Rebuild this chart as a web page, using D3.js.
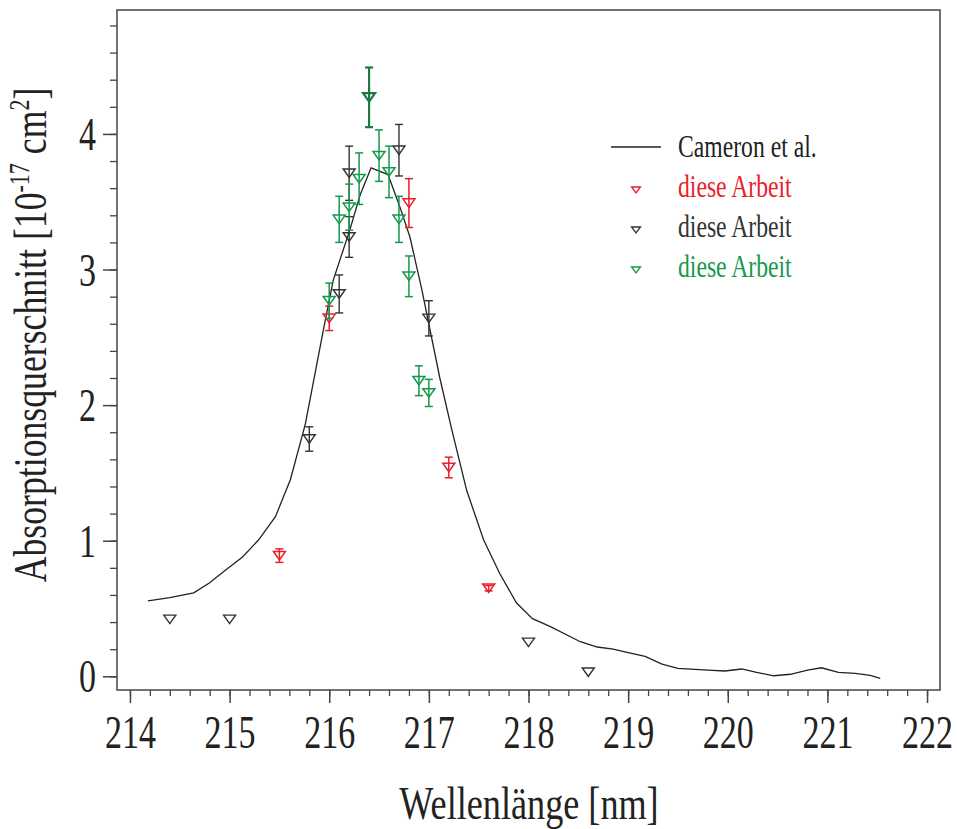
<!DOCTYPE html>
<html>
<head>
<meta charset="utf-8">
<script src="https://cdn.jsdelivr.net/npm/d3@7/dist/d3.min.js"></script>
<style>
  html, body { margin: 0; padding: 0; background: #fff; }
  svg { display: block; }
</style>
</head>
<body>
<div id="chart"></div>
<script>
// Cameron et al. reference spectrum
var cameronX = [214.18, 214.40, 214.64, 214.80, 214.97, 215.13, 215.29, 215.46, 215.61, 215.76,
                215.94, 216.04, 216.21, 216.31, 216.42, 216.59, 216.71, 216.81, 216.93, 217.11,
                217.23, 217.38, 217.55, 217.71, 217.88, 218.04, 218.22, 218.52, 218.69, 218.85,
                218.99, 219.17, 219.34, 219.50, 219.80, 219.97, 220.14, 220.29, 220.46, 220.63,
                220.80, 220.94, 221.11, 221.28, 221.43, 221.53];
var cameronY = [0.556, 0.58, 0.615, 0.69, 0.79, 0.88, 1.005, 1.177, 1.45, 1.86,
                2.55, 2.92, 3.30, 3.55, 3.75, 3.70, 3.46, 3.24, 2.85, 2.20,
                1.82, 1.37, 1.005, 0.76, 0.54, 0.425, 0.366, 0.255, 0.216, 0.20,
                0.177, 0.147, 0.09, 0.059, 0.046, 0.039, 0.054, 0.029, 0.004, 0.015,
                0.046, 0.063, 0.029, 0.022, 0.007, -0.015];

// diese Arbeit (rot)
var redX = [215.5, 216.0, 216.8, 217.2, 217.6];
var redY = [0.89, 2.64, 3.49, 1.54, 0.65];
var redErr = [0.05, 0.09, 0.18, 0.076, 0.02];

// diese Arbeit (schwarz)
var blackX = [214.4, 215.0, 215.8, 216.1, 216.2, 216.2, 216.7, 217.0, 218.0, 218.6];
var blackY = [0.42, 0.42, 1.75, 2.82, 3.24, 3.71, 3.88, 2.64, 0.25, 0.03];
var blackErr = [0, 0, 0.09, 0.14, 0.15, 0.2, 0.19, 0.13, 0, 0];

// diese Arbeit (gruen)
var greenX = [216.0, 216.1, 216.2, 216.3, 216.5, 216.6, 216.7, 216.8, 216.9, 217.0];
var greenY = [2.77, 3.37, 3.46, 3.67, 3.84, 3.72, 3.37, 2.95, 2.18, 2.09];
var greenErr = [0.13, 0.17, 0.17, 0.19, 0.19, 0.19, 0.17, 0.15, 0.11, 0.10];

// darker green point at the top
var topX = [216.4];
var topY = [4.27];
var topErr = [0.22];

var xMajor = [214, 215, 216, 217, 218, 219, 220, 221, 222];
var yMajor = [0, 1, 2, 3, 4];
var legendLabels = ["Cameron et al.", "diese Arbeit", "diese Arbeit", "diese Arbeit"];

var full_width = 957, full_height = 829;
var fontFamily = "'Liberation Serif', 'Times New Roman', serif";
var squeeze = 0.74;

var x = d3.scaleLinear().domain([213.87, 222.13]).range([117, 940]);
var y = d3.scaleLinear().domain([-0.101, 4.914]).range([690, 10]);

var svg = d3.select("#chart").append("svg")
    .attr("width", full_width)
    .attr("height", full_height)
    .style("font-family", fontFamily);

// minor ticks every 0.2
var xMinor = d3.range(214, 222.01, 0.2).map(function(d) { return +d.toFixed(1); });
var yMinor = d3.range(0, 4.81, 0.2).map(function(d) { return +d.toFixed(1); });

svg.append("g")
    .attr("transform", "translate(0,690)")
    .call(d3.axisBottom(x).tickValues(xMinor).tickSize(6).tickFormat(""))
    .call(function(g) { g.select(".domain").remove(); })
    .selectAll("line").attr("stroke", "#444").attr("stroke-width", 1.3);

var xAxis = svg.append("g")
    .attr("transform", "translate(0,690)")
    .call(d3.axisBottom(x).tickValues(xMajor).tickSize(13).tickFormat(d3.format("d")));
xAxis.select(".domain").remove();
xAxis.selectAll("line").attr("stroke", "#444").attr("stroke-width", 1.5);
xAxis.selectAll("text")
    .attr("y", 58).attr("dy", 0)
    .attr("transform", "scale(" + squeeze + ",1)")
    .attr("fill", "#222")
    .style("font-size", "46px")
    .style("font-family", fontFamily);

svg.append("g")
    .attr("transform", "translate(117,0)")
    .call(d3.axisLeft(y).tickValues(yMinor).tickSize(7).tickFormat(""))
    .call(function(g) { g.select(".domain").remove(); })
    .selectAll("line").attr("stroke", "#444").attr("stroke-width", 1.3);

var yAxis = svg.append("g")
    .attr("transform", "translate(117,0)")
    .call(d3.axisLeft(y).tickValues(yMajor).tickSize(14).tickFormat(d3.format("d")));
yAxis.select(".domain").remove();
yAxis.selectAll("line").attr("stroke", "#444").attr("stroke-width", 1.5);
yAxis.selectAll("text")
    .attr("x", -21 / squeeze).attr("dy", "0.34em")
    .attr("transform", "scale(" + squeeze + ",1)")
    .attr("fill", "#222")
    .style("font-size", "46px")
    .style("font-family", fontFamily);

// frame
svg.append("rect")
    .attr("x", 117).attr("y", 10)
    .attr("width", 940 - 117).attr("height", 690 - 10)
    .attr("fill", "none")
    .attr("stroke", "#444")
    .attr("stroke-width", 1.5);

// axis labels
svg.append("text")
    .attr("transform", "translate(529,819) scale(0.77,1)")
    .attr("text-anchor", "middle")
    .attr("fill", "#222")
    .style("font-size", "47px")
    .text("Wellenlänge [nm]");

var ylab = svg.append("text")
    .attr("transform", "translate(46,335) rotate(-90) scale(0.76,1)")
    .attr("text-anchor", "middle")
    .attr("fill", "#222")
    .style("font-size", "47px");
ylab.append("tspan").text("Absorptionsquerschnitt [10");
ylab.append("tspan").attr("dy", -17).style("font-size", "29px").text("-17");
ylab.append("tspan").attr("dy", 17).text(" cm");
ylab.append("tspan").attr("dy", -17).style("font-size", "29px").text("2");
ylab.append("tspan").attr("dy", 17).text("]");

// Cameron curve
var line = d3.line()
    .x(function(d, i) { return x(cameronX[i]); })
    .y(function(d) { return y(d); });

svg.append("path")
    .datum(cameronY)
    .attr("d", line)
    .attr("fill", "none")
    .attr("stroke", "#222")
    .attr("stroke-width", 1.3);

function triangle(w, h) {
    return "M" + (-w / 2) + "," + (-h / 2) + "L" + (w / 2) + "," + (-h / 2) + "L0," + (h / 2) + "Z";
}

function drawSeries(xs, ys, errs, color, sw) {
    var g = svg.append("g");
    var pts = xs.map(function(d, i) { return {x: d, y: ys[i], e: errs[i]}; });
    var bars = g.selectAll(".bar")
        .data(pts.filter(function(d) { return d.e > 0; }))
        .enter().append("g")
        .attr("class", "bar")
        .attr("stroke", color)
        .attr("stroke-width", sw);
    bars.append("line")
        .attr("x1", function(d) { return x(d.x); })
        .attr("x2", function(d) { return x(d.x); })
        .attr("y1", function(d) { return y(d.y + d.e); })
        .attr("y2", function(d) { return y(d.y - d.e); });
    bars.append("line")
        .attr("x1", function(d) { return x(d.x) - 4; })
        .attr("x2", function(d) { return x(d.x) + 4; })
        .attr("y1", function(d) { return y(d.y + d.e); })
        .attr("y2", function(d) { return y(d.y + d.e); });
    bars.append("line")
        .attr("x1", function(d) { return x(d.x) - 4; })
        .attr("x2", function(d) { return x(d.x) + 4; })
        .attr("y1", function(d) { return y(d.y - d.e); })
        .attr("y2", function(d) { return y(d.y - d.e); });
    g.selectAll(".marker")
        .data(pts)
        .enter().append("path")
        .attr("class", "marker")
        .attr("d", triangle(12, 8.5))
        .attr("transform", function(d) { return "translate(" + x(d.x) + "," + y(d.y) + ")"; })
        .attr("fill", "none")
        .attr("stroke", color)
        .attr("stroke-width", sw);
}

var colRed = "#ec1c2a", colBlack = "#333333", colGreen = "#14994b", colDark = "#1d7a3e";

drawSeries(blackX, blackY, blackErr, colBlack, 1.4);
drawSeries(redX, redY, redErr, colRed, 1.5);
drawSeries(greenX, greenY, greenErr, colGreen, 1.5);
drawSeries(topX, topY, topErr, colDark, 2.2);

// legend
var legend = svg.append("g");
legend.append("line")
    .attr("x1", 611).attr("x2", 661)
    .attr("y1", 147).attr("y2", 147)
    .attr("stroke", "#222").attr("stroke-width", 1.3);
var legendColors = ["#222", colRed, colBlack, colGreen];
legendLabels.forEach(function(t, i) {
    legend.append("text")
        .attr("transform", "translate(678," + (157 + i * 40) + ") scale(" + squeeze + ",1)")
        .attr("fill", legendColors[i])
        .style("font-size", "32px")
        .text(t);
    if (i > 0) {
        legend.append("path")
            .attr("d", triangle(9, 6))
            .attr("transform", "translate(636," + (150 + i * 40) + ")")
            .attr("fill", "none")
            .attr("stroke", legendColors[i])
            .attr("stroke-width", 1.3);
    }
});
</script>
</body>
</html>
